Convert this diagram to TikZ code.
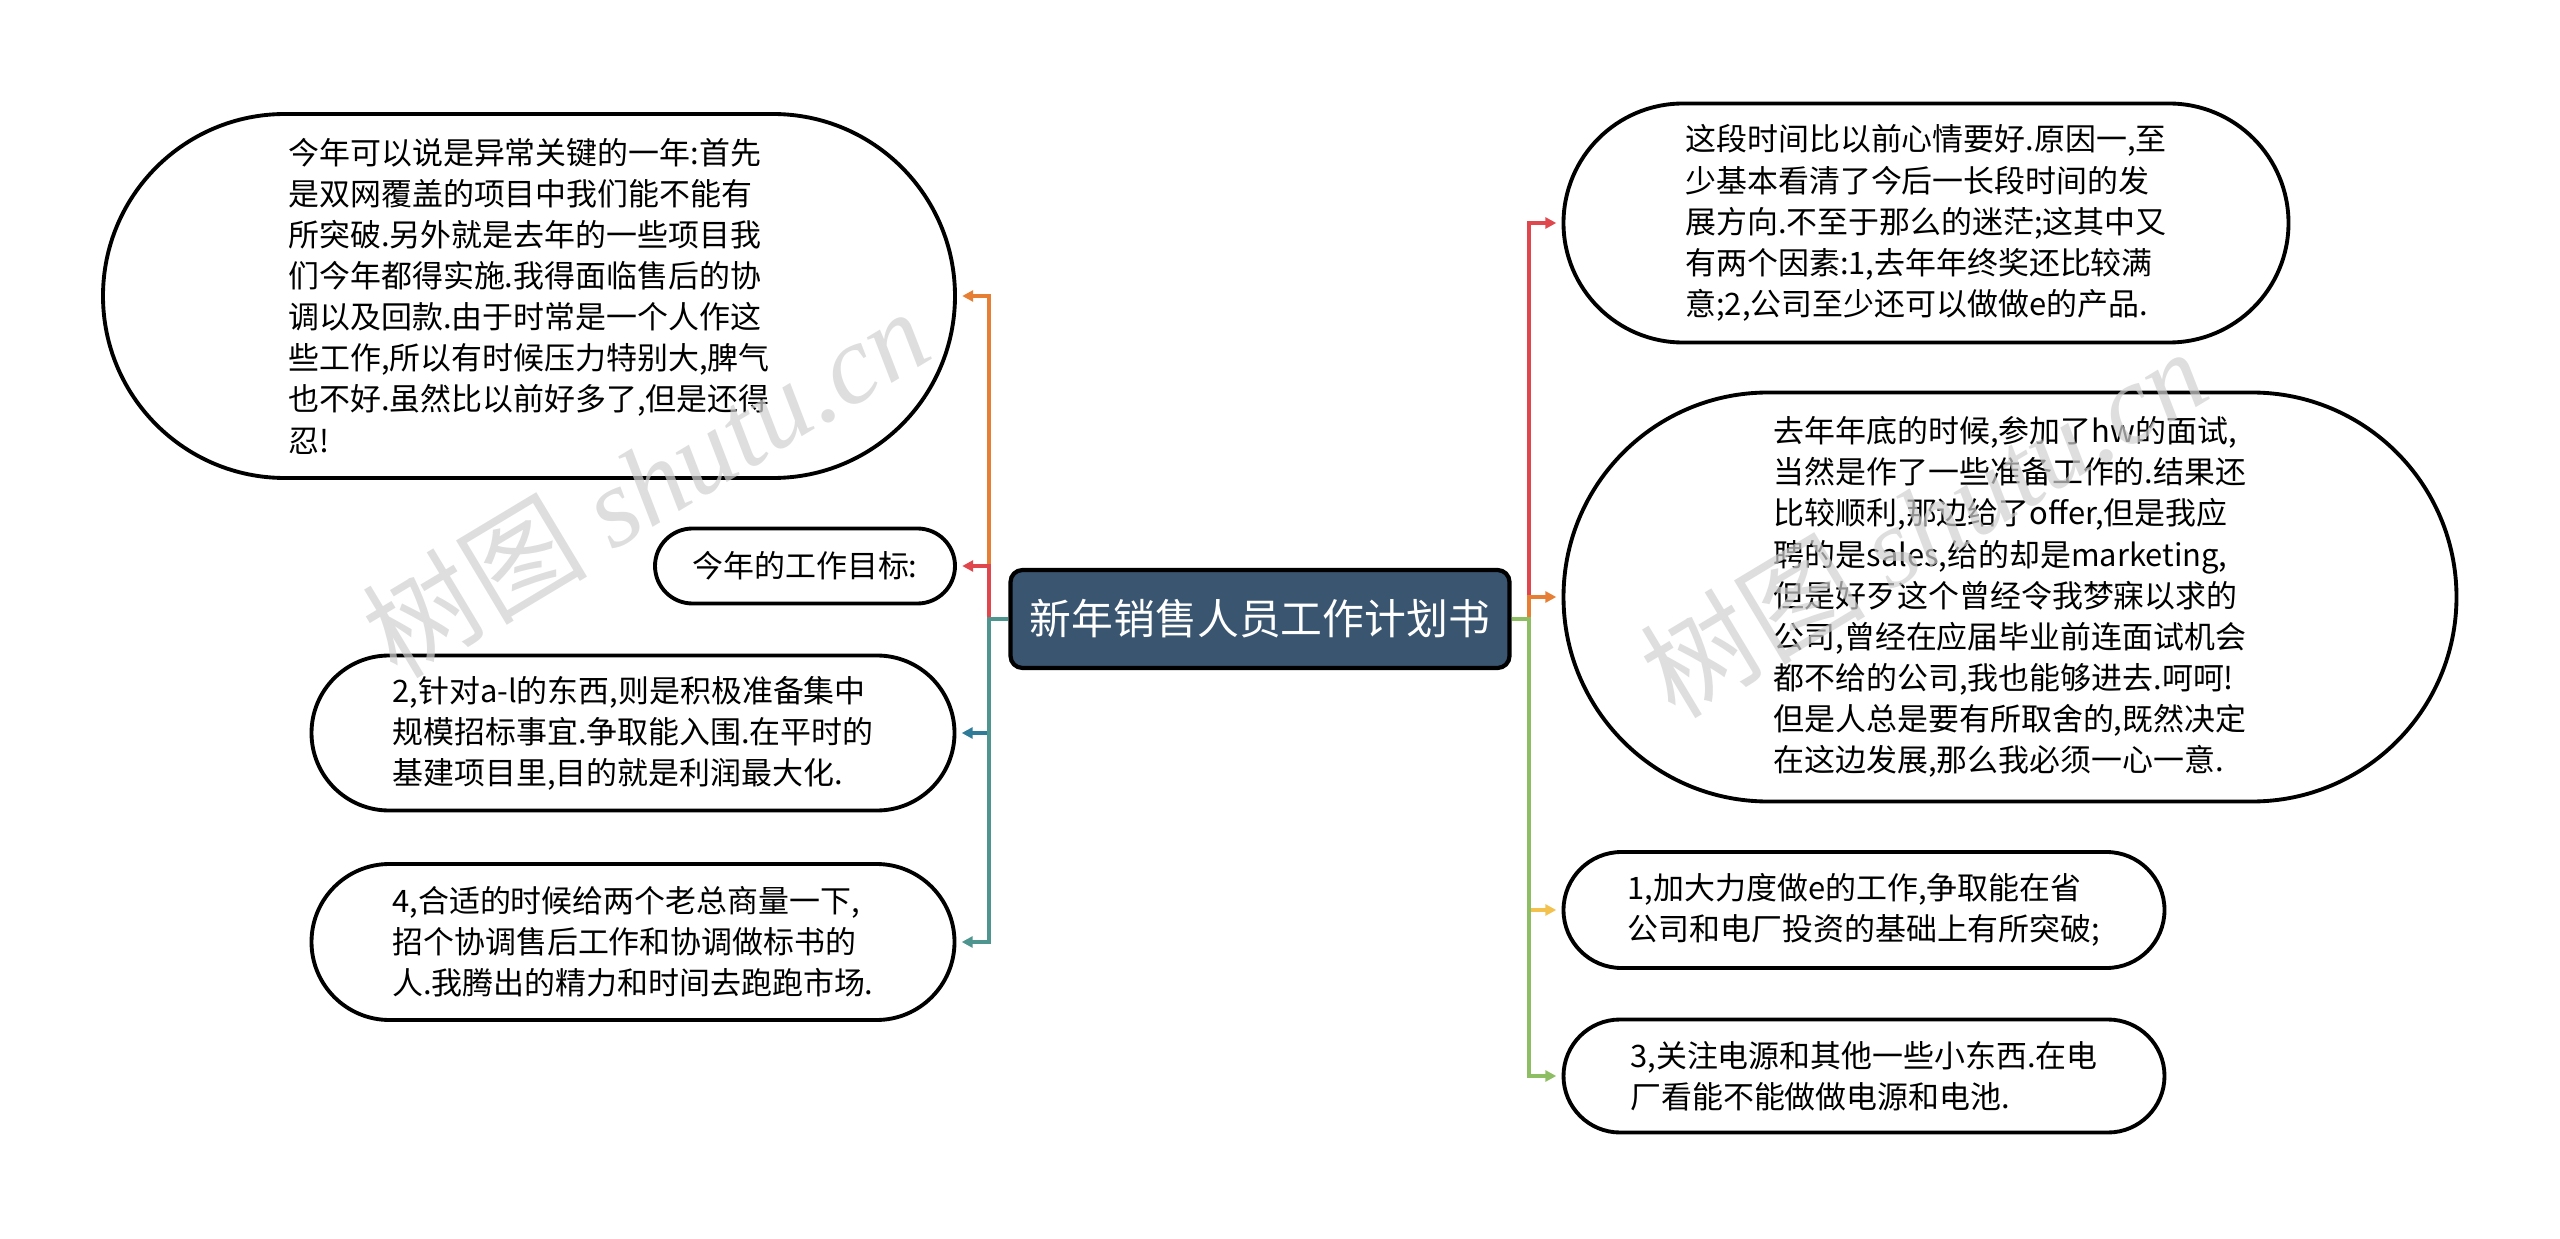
\documentclass[tikz,border=0pt]{standalone}
\usepackage{fontspec}
\setmainfont{Noto Sans CJK SC}
\newfontfamily\wmfont{Liberation Serif}
\usetikzlibrary{arrows.meta, shapes.misc}
\definecolor{mSlate}{HTML}{3A5570}
\definecolor{mOrange}{HTML}{E67E33}
\definecolor{mRed}{HTML}{E0474C}
\definecolor{mBlue}{HTML}{2F7C99}
\definecolor{mTeal}{HTML}{4E948F}
\definecolor{mYellow}{HTML}{F2C14E}
\definecolor{mGreen}{HTML}{8DBE63}
\definecolor{mMark}{HTML}{D0D0D0}
\tikzset{
  topic/.style={draw=black, line width=1.2pt, fill=mSlate, rounded corners=1.2mm,
                text=white, font=\fontsize{11.9}{14}\selectfont,
                minimum width=4.99cm, minimum height=0.98cm, inner sep=0pt},
  leaf/.style={draw=black, line width=1.1pt, fill=white, rounded rectangle,
               align=left, inner sep=0pt, text=black,
               font=\fontsize{8.8}{11.7}\selectfont},
  link/.style={line width=0.9pt, -{Triangle[length=1.1mm, width=1.1mm]},
               shorten >=1.5pt},
  wmark/.style={mMark, opacity=0.7, rotate=31, font=\fontsize{32}{32}\selectfont},
}
\begin{document}
\begin{tikzpicture}
    \useasboundingbox (0,0) rectangle (25.6,-12.39);
    \node[topic] (ctr) at (12.60,-6.19) {新年销售人员工作计划书};
    \node[leaf, minimum width=8.52cm, minimum height=3.64cm] (l1) at (5.29,-2.96) {%
      今年可以说是异常关键的一年:首先\\
      是双网覆盖的项目中我们能不能有\\
      所突破.另外就是去年的一些项目我\\
      们今年都得实施.我得面临售后的协\\
      调以及回款.由于时常是一个人作这\\
      些工作,所以有时候压力特别大,脾气\\
      也不好.虽然比以前好多了,但是还得\\
      忍!};
    \node[leaf, minimum width=3.00cm, minimum height=0.75cm] (l2) at (8.05,-5.66) {今年的工作目标:};
    \node[leaf, minimum width=6.43cm, minimum height=1.55cm] (l3) at (6.33,-7.33) {%
      2,针对a-l的东西,则是积极准备集中\\
      规模招标事宜.争取能入围.在平时的\\
      基建项目里,目的就是利润最大化.};
    \node[leaf, minimum width=6.43cm, minimum height=1.56cm] (l4) at (6.33,-9.42) {%
      4,合适的时候给两个老总商量一下,\\
      招个协调售后工作和协调做标书的\\
      人.我腾出的精力和时间去跑跑市场.};
    \node[leaf, minimum width=7.25cm, minimum height=2.39cm] (r1) at (19.26,-2.23) {%
      这段时间比以前心情要好.原因一,至\\
      少基本看清了今后一长段时间的发\\
      展方向.不至于那么的迷茫;这其中又\\
      有两个因素:1,去年年终奖还比较满\\
      意;2,公司至少还可以做做e的产品.};
    \node[leaf, minimum width=8.93cm, minimum height=4.09cm] (r2) at (20.10,-5.97) {%
      去年年底的时候,参加了hw的面试,\\
      当然是作了一些准备工作的.结果还\\
      比较顺利,那边给了offer,但是我应\\
      聘的是sales,给的却是marketing,\\
      但是好歹这个曾经令我梦寐以求的\\
      公司,曾经在应届毕业前连面试机会\\
      都不给的公司,我也能够进去.呵呵!\\
      但是人总是要有所取舍的,既然决定\\
      在这边发展,那么我必须一心一意.};
    \node[leaf, minimum width=6.01cm, minimum height=1.16cm] (r3) at (18.64,-9.10) {%
      1,加大力度做e的工作,争取能在省\\
      公司和电厂投资的基础上有所突破;};
    \node[leaf, minimum width=6.01cm, minimum height=1.13cm] (r4) at (18.64,-10.76) {%
      3,关注电源和其他一些小东西.在电\\
      厂看能不能做做电源和电池.};
    \coordinate (lt) at (9.89,-6.19);
    \coordinate (rt) at (15.29,-6.19);
    \draw[link, mOrange] (ctr.west) -- (lt) |- (l1.east);
    \draw[link, mRed] (ctr.west) -- (lt) |- (l2.east);
    \draw[link, mBlue] (ctr.west) -- (lt) |- (l3.east);
    \draw[link, mTeal] (ctr.west) -- (lt) |- (l4.east);
    \draw[link, mRed] (ctr.east) -- (rt) |- (r1.west);
    \draw[link, mOrange] (ctr.east) -- (rt) |- (r2.west);
    \draw[link, mYellow] (ctr.east) -- (rt) |- (r3.west);
    \draw[link, mGreen] (ctr.east) -- (rt) |- (r4.west);
    \node[wmark] (wm1) at (6.45,-4.82) {树图 {\wmfont\itshape shutu.cn}};
    \node[wmark] (wm2) at (19.23,-5.22) {树图 {\wmfont\itshape shutu.cn}};
\end{tikzpicture}
\end{document}
